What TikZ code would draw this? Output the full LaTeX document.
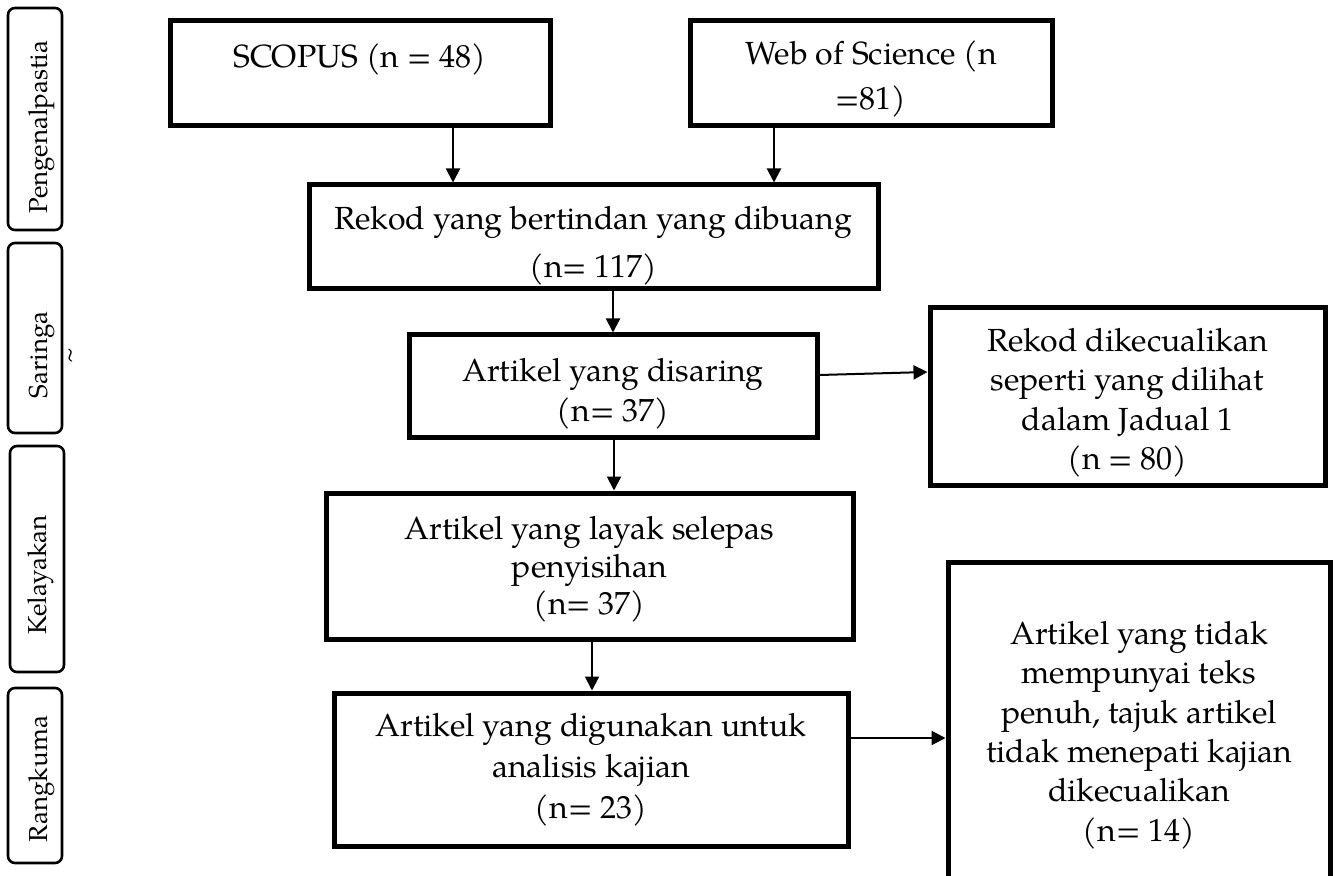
\documentclass[tikz,border=0pt]{standalone}
\usepackage{fontspec}
\setmainfont{texgyrepagella-regular.otf}
\usetikzlibrary{arrows.meta}
\newcommand{\toplift}[1]{\rule{0pt}{#1}}
\begin{document}
\begin{tikzpicture}[x=0.5pt,y=-0.5pt,
  box/.style={draw, line width=2.5pt, align=center, inner sep=0pt, font=\fontsize{16pt}{20pt}\selectfont},
  side/.style={draw, line width=1.3pt, rounded corners=3.5pt, minimum width=27pt, inner sep=0pt},
  sidetext/.style={rotate=90, inner sep=0pt, font=\fontsize{13pt}{15pt}\selectfont},
  arr/.style={line width=1pt, -{Triangle[length=7pt,width=7pt]}}]
\clip (0,0) rectangle (1336,876);
\useasboundingbox (0,0) rectangle (1336,876);

% stage boxes on the left
\node[side, minimum height=111pt] (sp) at (35,119) {};
\node[sidetext] (tp) at (42,127) {Pengenalpastia};
\node[side, minimum height=95pt] (ss) at (35,338) {};
\node[sidetext] (ts) at (42,355) {Saringa};
\node[side, minimum height=113pt] (sk) at (37,559) {};
\node[sidetext] (tk) at (41,575) {Kelayakan};
\node[side, minimum height=87.5pt] (sr) at (35,775.5) {};
\node[sidetext] (tr) at (42,779) {Rangkuma};
\node[rotate=90, inner sep=0pt, font=\fontsize{13pt}{13pt}\selectfont] (tl) at (73,356) {\textasciitilde};

% flow boxes
\node[box, minimum width=190pt, minimum height=52.5pt] (scopus) at (360,73.5) {\toplift{14pt}SCOPUS (n = 48)\\\mbox{}};
\node[box, minimum width=181pt, minimum height=52.5pt, font=\fontsize{16pt}{22.5pt}\selectfont] (wos) at (871,73.5) {\toplift{17pt}Web of Science (n\\=81)};
\node[box, minimum width=284.5pt, minimum height=52pt, font=\fontsize{16pt}{24pt}\selectfont] (rekod) at (593.5,237) {\toplift{20pt}Rekod yang bertindan yang dibuang\\(n= 117)};
\node[box, minimum width=204pt, minimum height=51pt] (disaring) at (613,386) {\toplift{19pt}Artikel yang disaring\\(n= 37)};
\node[box, minimum width=197.5pt, minimum height=88.5pt, font=\fontsize{16pt}{19.7pt}\selectfont] (dikec) at (1127.5,396.5) {\toplift{18pt}Rekod dikecualikan\\seperti yang dilihat\\dalam Jadual 1\\(n = 80)};
\node[box, minimum width=263.5pt, minimum height=73pt, font=\fontsize{16pt}{18.75pt}\selectfont] (layak) at (589.5,566) {\toplift{15pt}Artikel yang layak selepas\\penyisihan\\(n= 37)};
\node[box, minimum width=257pt, minimum height=76.5pt, font=\fontsize{16pt}{20.5pt}\selectfont] (guna) at (591,769.5) {Artikel yang digunakan untuk\\analisis kajian\\(n= 23)};
\node[box, minimum width=191pt, minimum height=173pt, font=\fontsize{16pt}{19.7pt}\selectfont] (akhir) at (1139,735) {Artikel yang tidak\\mempunyai teks\\penuh, tajuk artikel\\tidak menepati kajian\\dikecualikan\\(n= 14)};

% connectors
\coordinate (c1) at (453,0);
\coordinate (c2) at (774,0);
\coordinate (c3) at (613,0);
\coordinate (c4) at (614,0);
\coordinate (c5) at (592,0);
\coordinate (h1) at (0,375);
\coordinate (h2) at (0,372);
\coordinate (h3) at (0,738);
\draw[arr] (scopus.south -| c1) -- (rekod.north -| c1);
\draw[arr] (wos.south -| c2) -- (rekod.north -| c2);
\draw[arr] (rekod.south -| c3) -- (disaring.north -| c3);
\draw[arr] (disaring.east |- h1) -- (dikec.west |- h2);
\draw[arr] (disaring.south -| c4) -- (layak.north -| c4);
\draw[arr] (layak.south -| c5) -- (guna.north -| c5);
\draw[arr] (guna.east |- h3) -- (akhir.west |- h3);
\end{tikzpicture}
\end{document}
